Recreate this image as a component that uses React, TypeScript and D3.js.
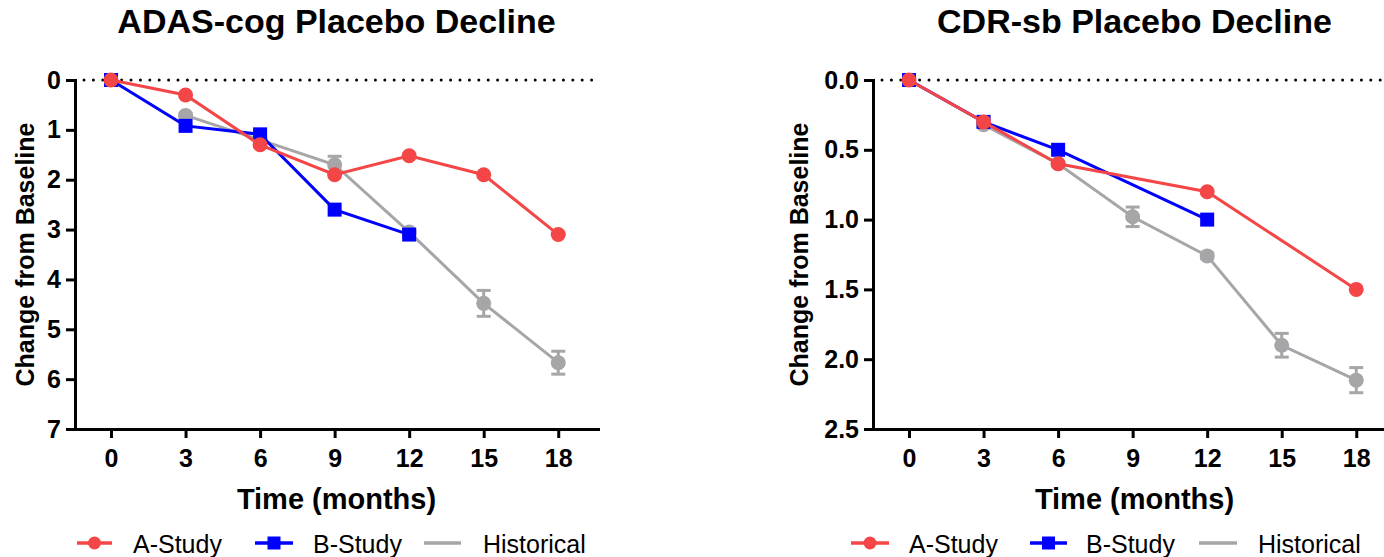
import * as d3 from "d3";
import { useRef, useEffect } from "react";

// ---- DATA

// ADAS-cog panel
const adasAMonths = [0, 3, 6, 9, 12, 15, 18];
const adasA = [0, 0.3, 1.3, 1.9, 1.52, 1.9, 3.1];
const adasBMonths = [0, 3, 6, 9, 12];
const adasB = [0, 0.92, 1.09, 2.6, 3.1];
const adasHistMonths = [3, 6, 9, 12, 15, 18];
const adasHist = [0.71, 1.2, 1.7, 3.05, 4.48, 5.67];
const adasHistErr = [0.04, 0.04, 0.17, 0.05, 0.26, 0.23];
const adasTicks = [0, 1, 2, 3, 4, 5, 6, 7];

// CDR-sb panel
const cdrAMonths = [0, 3, 6, 12, 18];
const cdrA = [0, 0.3, 0.6, 0.8, 1.5];
const cdrBMonths = [0, 3, 6, 12];
const cdrB = [0, 0.3, 0.5, 1.0];
const cdrHistMonths = [3, 6, 9, 12, 15, 18];
const cdrHist = [0.32, 0.6, 0.98, 1.26, 1.9, 2.15];
const cdrHistErr = [0.015, 0.015, 0.07, 0.02, 0.085, 0.09];
const cdrTicks = [0, 0.5, 1, 1.5, 2, 2.5];

const xTicks = [0, 3, 6, 9, 12, 15, 18];
const seriesNames = ["A-Study", "B-Study", "Historical"];

const FONT = "Arial, 'Liberation Sans', sans-serif";
const red = "#f44646";
const blue = "#0000ff";
const grey = "#a6a6a8";

const zip = (xs, ys, es = null) =>
  xs.map((m, i) => ({ month: m, val: ys[i], err: es ? es[i] : 0 }));

const panels = [
  {
    title: "ADAS-cog Placebo Decline",
    left: 75,
    yDomain: [0, 7],
    yTicks: adasTicks,
    fmt: d3.format("d"),
    ytitleX: 34,
    hist: zip(adasHistMonths, adasHist, adasHistErr),
    b: zip(adasBMonths, adasB),
    a: zip(adasAMonths, adasA),
    legend: [
      [77, 112, 133],
      [255, 293, 313],
      [424, 461, 483],
    ],
  },
  {
    title: "CDR-sb Placebo Decline",
    left: 873,
    yDomain: [0, 2.5],
    yTicks: cdrTicks,
    fmt: d3.format(".1f"),
    ytitleX: 808,
    hist: zip(cdrHistMonths, cdrHist, cdrHistErr),
    b: zip(cdrBMonths, cdrB),
    a: zip(cdrAMonths, cdrA),
    legend: [
      [851, 889, 909],
      [1030, 1067, 1086],
      [1199, 1237, 1258],
    ],
  },
];

const App = () => {
  const container = useRef(null);

  useEffect(() => {
    createChart();
  }, []);

  const createChart = () => {
    let node = container.current;
    let svg = d3.select(node);
    svg.selectAll("*").remove();

    let top = 80;
    let bottom = 429;
    let plotW = 523;

    panels.forEach((p) => {
      let g = svg.append("g");

      let xScale = d3
        .scaleLinear()
        .domain([-1.45, 19.6])
        .range([p.left, p.left + plotW]);
      let yScale = d3.scaleLinear().domain(p.yDomain).range([top, bottom]);

      // title
      g.append("text")
        .attr("x", p.left + plotW / 2)
        .attr("y", 33)
        .attr("text-anchor", "middle")
        .style("font-family", FONT)
        .style("font-weight", 700)
        .style("font-size", "34px")
        .text(p.title);

      // zero dotted line
      g.append("line")
        .attr("x1", p.left + 9)
        .attr("x2", p.left + plotW)
        .attr("y1", yScale(0))
        .attr("y2", yScale(0))
        .attr("stroke", "black")
        .attr("stroke-width", 3)
        .attr("stroke-linecap", "round")
        .attr("stroke-dasharray", "0 9.4");

      // axes
      let xAxis = d3
        .axisBottom(xScale)
        .tickValues(xTicks)
        .tickSize(9)
        .tickSizeOuter(0)
        .tickPadding(11);
      let yAxis = d3
        .axisLeft(yScale)
        .tickValues(p.yTicks)
        .tickFormat(p.fmt)
        .tickSize(9)
        .tickSizeOuter(0)
        .tickPadding(5);

      let xg = g
        .append("g")
        .attr("transform", `translate(0,${bottom})`)
        .call(xAxis);
      let yg = g
        .append("g")
        .attr("transform", `translate(${p.left},0)`)
        .call(yAxis);

      [xg, yg].forEach((ag) => {
        ag.attr("font-family", FONT).attr("font-size", 25).attr("font-weight", 700);
        ag.select(".domain").attr("stroke-width", 3).attr("stroke-linecap", "square");
        ag.selectAll(".tick line").attr("stroke-width", 3);
        ag.selectAll(".tick text").attr("fill", "black");
      });

      // axis titles
      g.append("text")
        .attr("x", p.left + plotW / 2)
        .attr("y", 509)
        .attr("text-anchor", "middle")
        .style("font-family", FONT)
        .style("font-weight", 700)
        .style("font-size", "29px")
        .text("Time (months)");

      g.append("text")
        .attr(
          "transform",
          `translate(${p.ytitleX},${(top + bottom) / 2})rotate(-90)`
        )
        .attr("text-anchor", "middle")
        .style("font-family", FONT)
        .style("font-weight", 700)
        .style("font-size", "25px")
        .text("Change from Baseline");

      let lineGen = d3
        .line()
        .x((d) => xScale(d.month))
        .y((d) => yScale(d.val));

      // historical
      let hg = g.append("g");
      hg.append("path")
        .attr("d", lineGen(p.hist))
        .attr("fill", "none")
        .attr("stroke", grey)
        .attr("stroke-width", 3);
      let eb = hg
        .selectAll(".err")
        .data(p.hist)
        .join("g")
        .attr("class", "err")
        .attr("stroke", grey)
        .attr("stroke-width", 3);
      eb.append("line")
        .attr("x1", (d) => xScale(d.month))
        .attr("x2", (d) => xScale(d.month))
        .attr("y1", (d) => yScale(d.val - d.err))
        .attr("y2", (d) => yScale(d.val + d.err));
      eb.append("line")
        .attr("x1", (d) => xScale(d.month) - 7)
        .attr("x2", (d) => xScale(d.month) + 7)
        .attr("y1", (d) => yScale(d.val - d.err))
        .attr("y2", (d) => yScale(d.val - d.err));
      eb.append("line")
        .attr("x1", (d) => xScale(d.month) - 7)
        .attr("x2", (d) => xScale(d.month) + 7)
        .attr("y1", (d) => yScale(d.val + d.err))
        .attr("y2", (d) => yScale(d.val + d.err));
      hg.selectAll("circle")
        .data(p.hist)
        .join("circle")
        .attr("cx", (d) => xScale(d.month))
        .attr("cy", (d) => yScale(d.val))
        .attr("r", 7.5)
        .attr("fill", grey);

      // B-Study
      let bg = g.append("g");
      bg.append("path")
        .attr("d", lineGen(p.b))
        .attr("fill", "none")
        .attr("stroke", blue)
        .attr("stroke-width", 3);
      bg.selectAll("rect")
        .data(p.b)
        .join("rect")
        .attr("x", (d) => xScale(d.month) - 7)
        .attr("y", (d) => yScale(d.val) - 7)
        .attr("width", 14)
        .attr("height", 14)
        .attr("fill", blue);

      // A-Study
      let rg = g.append("g");
      rg.append("path")
        .attr("d", lineGen(p.a))
        .attr("fill", "none")
        .attr("stroke", red)
        .attr("stroke-width", 3);
      rg.selectAll("circle")
        .data(p.a)
        .join("circle")
        .attr("cx", (d) => xScale(d.month))
        .attr("cy", (d) => yScale(d.val))
        .attr("r", 7.5)
        .attr("fill", red);

      // legend
      let ly = 543;
      let colors = [red, blue, grey];
      let lg = g.append("g");
      p.legend.forEach(([x1, x2, tx], i) => {
        lg.append("line")
          .attr("x1", x1)
          .attr("x2", x2)
          .attr("y1", ly)
          .attr("y2", ly)
          .attr("stroke", colors[i])
          .attr("stroke-width", 3.5);
        let cx = (x1 + x2) / 2;
        if (i === 0) {
          lg.append("circle").attr("cx", cx).attr("cy", ly).attr("r", 6.5).attr("fill", red);
        } else if (i === 1) {
          lg.append("rect")
            .attr("x", cx - 6.5)
            .attr("y", ly - 6.5)
            .attr("width", 13)
            .attr("height", 13)
            .attr("fill", blue);
        }
        lg.append("text")
          .attr("x", tx)
          .attr("y", 553)
          .style("font-family", FONT)
          .style("font-size", "25px")
          .text(seriesNames[i]);
      });
    });
  };

  return (
    <svg
      ref={container}
      width={1384}
      height={557}
      style={{ position: "absolute", left: 0, top: 0, background: "white" }}
    ></svg>
  );
};

export default App;
